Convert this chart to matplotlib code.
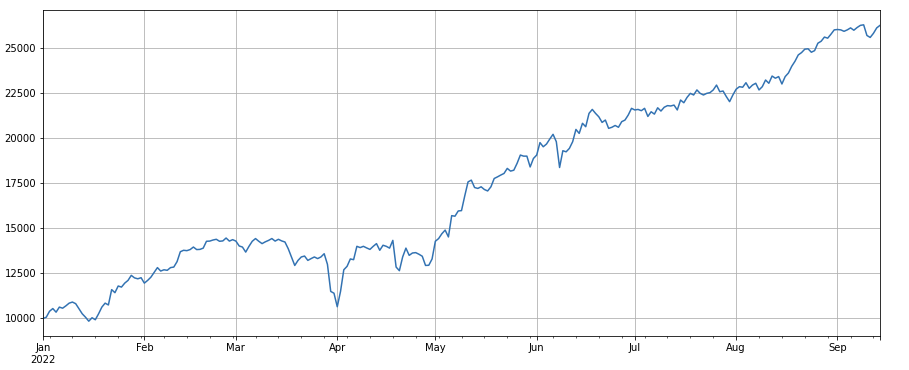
import matplotlib
matplotlib.use("Agg")
import matplotlib.pyplot as plt
import pandas as pd

start_date = "2022-01-01"
values = [
    10000, 10070, 10400, 10550, 10350, 10630, 10570, 10700, 10850, 10910,
    10820, 10540, 10260, 10070, 9850, 10040, 9930, 10260, 10630, 10850,
    10750, 11600, 11430, 11800, 11740, 11960, 12110, 12390, 12250, 12200,
    12260, 11960, 12110, 12290, 12550, 12820, 12630, 12700, 12670, 12820,
    12850, 13150, 13700, 13780, 13760, 13820, 13960, 13820, 13830, 13900,
    14280, 14290, 14350, 14390, 14280, 14300, 14460, 14290, 14370, 14290,
    14020, 13960, 13680, 14000, 14280, 14430, 14280, 14150, 14250, 14330,
    14430, 14290, 14390, 14300, 14240, 13870, 13410, 12940, 13220, 13410,
    13460, 13220, 13320, 13410, 13320, 13410, 13590, 13000, 11500, 11400,
    10650, 11500, 12700, 12890, 13300, 13260, 14000, 13930, 14000, 13910,
    13830, 14000, 14150, 13780, 14060, 14000, 13900, 14330, 12850, 12650,
    13410, 13900, 13500, 13630, 13650, 13560, 13450, 12940, 12950, 13300,
    14280, 14430, 14700, 14900, 14520, 15700, 15670, 15960, 15980, 16800,
    17570, 17670, 17260, 17210, 17300, 17150, 17070, 17300, 17760, 17850,
    17950, 18040, 18320, 18170, 18220, 18600, 19060, 19000, 19000, 18400,
    18870, 19060, 19750, 19520, 19670, 19950, 20210, 19800, 18370, 19300,
    19240, 19430, 19800, 20480, 20260, 20820, 20630, 21370, 21590, 21370,
    21180, 20870, 21000, 20540, 20600, 20700, 20600, 20910, 21000, 21280,
    21650, 21560, 21590, 21520, 21650, 21200, 21460, 21330, 21680, 21500,
    21710, 21800, 21780, 21830, 21560, 22110, 21960, 22260, 22480, 22390,
    22670, 22480, 22390, 22480, 22520, 22670, 22940, 22570, 22610, 22300,
    22020, 22390, 22710, 22850, 22820, 23070, 22760, 22940, 23040, 22670,
    22850, 23220, 23040, 23440, 23320, 23410, 23000, 23410, 23610, 23980,
    24260, 24610, 24740, 24930, 24950, 24760, 24850, 25260, 25370, 25600,
    25540, 25760, 26000, 26020, 26000, 25920, 26000, 26110, 25980, 26130,
    26250, 26280, 25690, 25580, 25810, 26110, 26250,
]

dates = pd.date_range(start_date, periods=len(values), freq="D")
series = pd.Series(values, index=dates)

fig = plt.figure(figsize=(909 / 72, 370 / 72), dpi=72)
ax = fig.add_axes([43 / 909, 1 - 336 / 370, (880 - 43) / 909, (336 - 10) / 370])
series.plot(ax=ax, color="#3272b2", linewidth=1.5, grid=True)
ax.grid(True, which="major", color="#b0b0b0", linewidth=0.8)
ax.set_xlabel("")
fig.savefig("out.png", dpi=72)
